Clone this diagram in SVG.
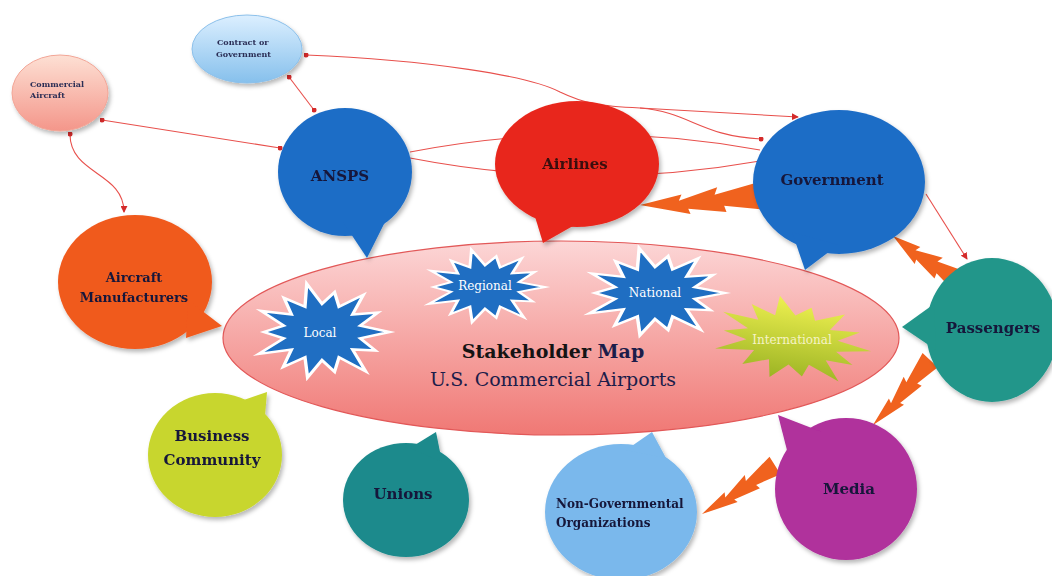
<svg xmlns="http://www.w3.org/2000/svg" xmlns:xlink="http://www.w3.org/1999/xlink" width="1052" height="576" viewBox="0 0 1052 576">
<defs>
<style>
.lbl{font-family:"DejaVu Serif","Liberation Serif",serif;font-weight:bold;fill:#17183a;text-anchor:middle}
.sm{font-family:"DejaVu Serif","Liberation Serif",serif;font-weight:bold;fill:#2a2d55;font-size:8px}
.st{font-family:"DejaVu Serif","Liberation Serif",serif;fill:#ffffff;font-size:12px;text-anchor:middle}
.con{fill:none;stroke:#e8504c;stroke-width:1.1}
.bolt{fill:#f0621e}
.star{stroke:#ffffff;stroke-width:2.5;vector-effect:non-scaling-stroke}
</style>
<filter id="sh" x="-20%" y="-20%" width="140%" height="140%">
<feDropShadow dx="2" dy="3" stdDeviation="2" flood-color="#000" flood-opacity="0.28"/>
</filter>
<linearGradient id="gMain" x1="0" y1="0" x2="0" y2="1">
<stop offset="0" stop-color="#fcd6d6"/><stop offset="1" stop-color="#f07874"/>
</linearGradient>
<linearGradient id="gCA" x1="0" y1="0" x2="0" y2="1">
<stop offset="0" stop-color="#fde0d4"/><stop offset="1" stop-color="#f4968a"/>
</linearGradient>
<linearGradient id="gCG" x1="0" y1="0" x2="0" y2="1">
<stop offset="0" stop-color="#dcefff"/><stop offset="1" stop-color="#86c0ec"/>
</linearGradient>
<linearGradient id="gInt" x1="0" y1="0" x2="0" y2="1">
<stop offset="0" stop-color="#eef050"/><stop offset="1" stop-color="#9cb424"/>
</linearGradient>
<marker id="dot" viewBox="0 0 6 6" refX="3" refY="3" markerWidth="5" markerHeight="5" markerUnits="userSpaceOnUse">
<circle cx="3" cy="3" r="3" fill="#d42a2a"/>
</marker>
<marker id="arr" viewBox="0 0 8 8" refX="7" refY="4" markerWidth="7" markerHeight="7" orient="auto" markerUnits="userSpaceOnUse">
<path d="M0,0 L8,4 L0,8 Z" fill="#d42a2a"/>
</marker>
<path id="starShape" d="M50,0 L28.3,6.5 L39.6,19.1 L22.6,18 L32.4,40.7 L12.6,26.1 L9.3,40.9 L0,29 L-10.7,46.8 L-12.6,26.1 L-28.7,36 L-22.6,18 L-46.9,22.6 L-28.3,6.5 L-43,0 L-28.3,-6.5 L-45.1,-21.7 L-22.6,-18 L-28.1,-35.2 L-12.6,-26.1 L-11.3,-49.7 L0,-29 L9.3,-40.9 L12.6,-26.1 L30.6,-38.3 L22.6,-18 L41.4,-20 L28.3,-6.5 Z"/>
<path id="boltShape" d="M0,0 L42,-8 L39,-2 L78,-13 L75,-6 L120,-16 L120,10 L84,5 L86,11 L48,6 L50,11 Z"/>
</defs>

<g id="map-center">
<ellipse cx="561" cy="338" rx="338" ry="97" fill="url(#gMain)" stroke="#e25858" stroke-width="1.2"/>
<use xlink:href="#starShape" class="star" fill="#1f6ec2" transform="translate(322,332) scale(1.35,0.97)"/>
<text class="st" x="320" y="337">Local</text>
<use xlink:href="#starShape" class="star" fill="#1f6ec2" transform="translate(485,287) scale(1.2,0.75)"/>
<text class="st" x="485" y="290">Regional</text>
<use xlink:href="#starShape" class="star" fill="#1f6ec2" transform="translate(655,293) scale(1.4,0.9)"/>
<text class="st" x="655" y="297">National</text>
<use xlink:href="#starShape" fill="url(#gInt)" transform="translate(792,340) rotate(8) scale(1.6,0.85)"/>
<text class="st" x="792" y="344" fill="#f8f4c8" style="fill:#f6f3c6">International</text>
<text x="553" y="358" text-anchor="middle" font-family="DejaVu Serif,Liberation Serif,serif" font-size="19" font-weight="bold"><tspan fill="#141414">Stakeholder</tspan><tspan fill="#1c1d4a"> Map</tspan></text>
<text x="553" y="386" text-anchor="middle" font-family="DejaVu Serif,Liberation Serif,serif" font-size="19" fill="#1c1d4a">U.S. Commercial Airports</text>
</g>

<g id="connectors">
<path class="con" d="M289,77 L314,110" marker-start="url(#dot)" marker-end="url(#dot)"/>
<path class="con" d="M102,120 L280,148" marker-start="url(#dot)" marker-end="url(#dot)"/>
<path class="con" d="M70,134 C70,175 124,172 124,212" marker-start="url(#dot)" marker-end="url(#arr)"/>
<path class="con" d="M306,55 C430,60 530,76 560,92 C585,104 600,106 640,108 L798,117" marker-start="url(#dot)" marker-end="url(#arr)"/>
<path class="con" d="M640,108 C690,112 700,136 761,139" marker-end="url(#dot)"/>
<path class="con" d="M410,152 Q585,118 760,150"/>
<path class="con" d="M410,158 Q585,192 760,161"/>
<path class="con" d="M926,194 L967,259" marker-end="url(#arr)"/>
<use xlink:href="#boltShape" class="bolt" transform="translate(640,205) rotate(-3) scale(1.0,1.05)"/>
<use xlink:href="#boltShape" class="bolt" transform="translate(893,236) rotate(36) scale(0.68,0.9)"/>
<use xlink:href="#boltShape" class="bolt" transform="translate(873,425) rotate(-47) scale(0.72,0.8)"/>
<use xlink:href="#boltShape" class="bolt" transform="translate(702,514) rotate(-32) scale(0.73,0.8)"/>
</g>

<g id="commercial-aircraft" filter="url(#sh)">
<ellipse cx="60" cy="93" rx="48" ry="38" fill="url(#gCA)" stroke="#f2a596" stroke-width="1"/>
<text class="sm" x="30" y="87">Commercial</text>
<text class="sm" x="30" y="98">Aircraft</text>
</g>

<g id="contract-government" filter="url(#sh)">
<ellipse cx="247" cy="49" rx="55" ry="34" fill="url(#gCG)" stroke="#8cc0ea" stroke-width="1"/>
<text class="sm" x="217" y="45">Contract or</text>
<text class="sm" x="216" y="57">Government</text>
</g>

<g id="ansps" filter="url(#sh)" fill="#1e6dc6">
<ellipse cx="345" cy="172" rx="67" ry="64"/>
<polygon points="343,222 385,222 367,258"/>
<text class="lbl" x="340" y="181" font-size="15">ANSPS</text>
</g>

<g id="airlines" filter="url(#sh)" fill="#e8281c">
<ellipse cx="577" cy="164" rx="82" ry="63"/>
<polygon points="533,210 580,222 543,243"/>
<text class="lbl" x="575" y="169" font-size="15" style="fill:#3a1010">Airlines</text>
</g>

<g id="government" filter="url(#sh)" fill="#1e6dc6">
<ellipse cx="839" cy="182" rx="86" ry="72"/>
<polygon points="792,232 838,245 805,270"/>
<text class="lbl" x="832" y="185" font-size="15">Government</text>
</g>

<g id="passengers" filter="url(#sh)" fill="#22968a">
<ellipse cx="992" cy="330" rx="66" ry="72"/>
<polygon points="934,304 936,350 902,327"/>
<text class="lbl" x="993" y="333" font-size="15">Passengers</text>
</g>

<g id="aircraft-manufacturers" filter="url(#sh)" fill="#f05a1e">
<ellipse cx="135" cy="282" rx="77" ry="67"/>
<polygon points="188,300 222,326 186,338"/>
<text class="lbl" x="134" y="282" font-size="13">Aircraft</text>
<text class="lbl" x="134" y="302" font-size="13">Manufacturers</text>
</g>

<g id="business-community" filter="url(#sh)" fill="#c8d62e">
<ellipse cx="215" cy="455" rx="67" ry="62"/>
<polygon points="238,402 267,392 264,428"/>
<text class="lbl" x="212" y="441" font-size="15">Business</text>
<text class="lbl" x="212" y="465" font-size="15">Community</text>
</g>

<g id="unions" filter="url(#sh)" fill="#1b8a8c">
<ellipse cx="406" cy="500" rx="63" ry="57"/>
<polygon points="410,448 436,432 442,462"/>
<text class="lbl" x="403" y="499" font-size="15">Unions</text>
</g>

<g id="ngo" filter="url(#sh)" fill="#7ab8ec">
<ellipse cx="621" cy="512" rx="76" ry="68"/>
<polygon points="626,450 652,432 666,458"/>
<text class="lbl" x="556" y="508" font-size="12" text-anchor="start" style="text-anchor:start">Non-Governmental</text>
<text class="lbl" x="556" y="527" font-size="12" style="text-anchor:start">Organizations</text>
</g>

<g id="media" filter="url(#sh)" fill="#b0309c">
<ellipse cx="846" cy="489" rx="71" ry="71"/>
<polygon points="778,415 822,432 790,462"/>
<text class="lbl" x="849" y="494" font-size="15">Media</text>
</g>
</svg>
